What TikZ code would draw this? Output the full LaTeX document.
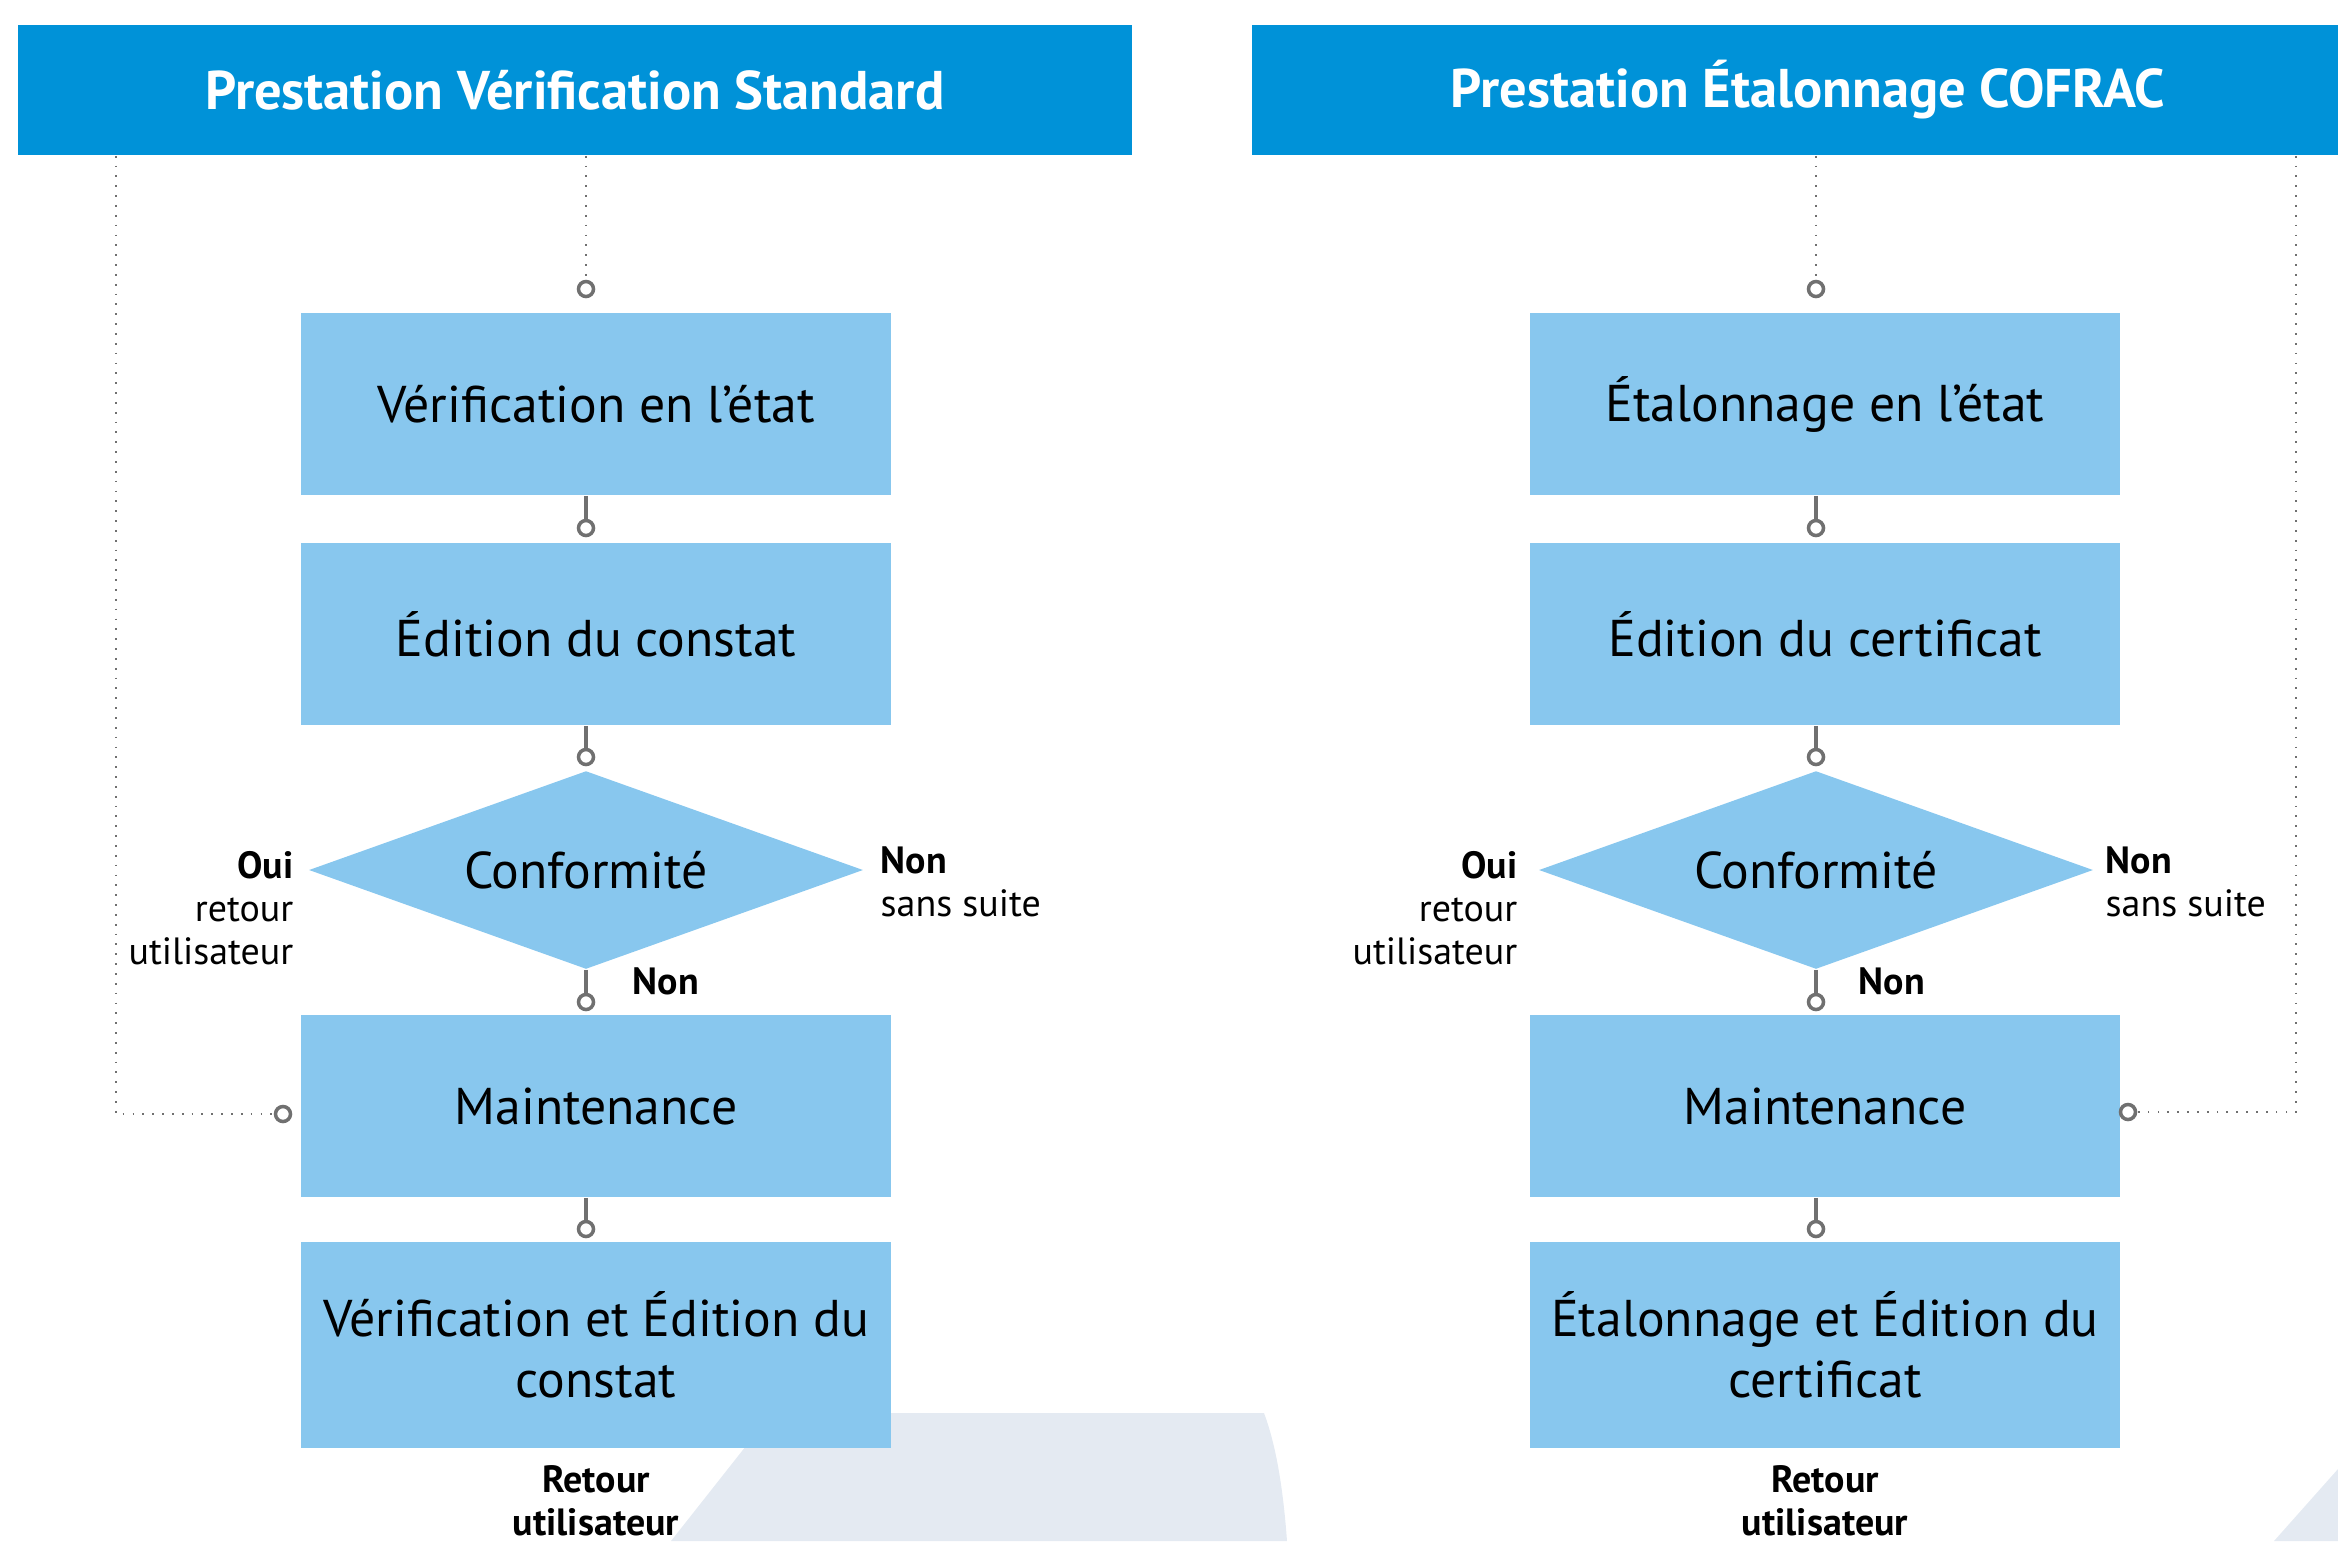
\documentclass[tikz,border=0pt]{standalone}
\usepackage{fontspec}
\setmainfont{PT Sans}
\usetikzlibrary{shapes.geometric}
\definecolor{headblue}{RGB}{0,146,216}
\definecolor{boxblue}{RGB}{136,199,238}
\definecolor{wire}{RGB}{112,112,112}
\definecolor{shadow}{RGB}{228,234,242}
\begin{document}
\begin{tikzpicture}[x=0.01cm,y=-0.01cm,
  banner/.style={fill=headblue,text=white,inner sep=0,minimum height=1.3cm,font=\bfseries\fontsize{15.5}{18}\selectfont},
  stepbox/.style={fill=boxblue,inner sep=0,minimum width=5.89cm,minimum height=1.82cm,align=center,font=\fontsize{14.7}{17.4}\selectfont},
  choice/.style={diamond,aspect=2.8,fill=boxblue,inner sep=0,minimum width=5.54cm,minimum height=1.98cm,font=\fontsize{14.7}{17.4}\selectfont},
  ring/.style={circle,draw=wire,line width=1pt,fill=white,inner sep=0,minimum size=0.15cm},
  link/.style={draw=wire,line width=1pt},
  trace/.style={draw=wire,line width=0.7pt,dash pattern=on 0.5pt off 2.3pt},
  note/.style={inner sep=0,font=\fontsize{10.8}{12.2}\selectfont},
  boldnote/.style={inner sep=0,font=\bfseries\fontsize{10.8}{12.2}\selectfont}]
\useasboundingbox (0,0) rectangle (2338,1541);
\clip (0,0) rectangle (2338,1541);
\fill[shadow] (772,1413) -- (1264,1413) .. controls (1278,1450) and (1284,1500) .. (1287,1541) -- (671,1541) -- cycle;
\fill[shadow] (2338,1469) -- (2338,1541) -- (2274,1541) -- cycle;

\node[banner,minimum width=11.14cm] (vhead) at (575,90) {Prestation Vérification Standard};
\node[stepbox] (veta) at (596,404) {Vérification en l’état};
\node[stepbox] (vedit) at (596,634) {Édition du constat};
\node[choice] (vconf) at (586,870) {Conformité};
\node[stepbox] (vmaint) at (596,1106) {Maintenance};
\node[stepbox,minimum height=2.06cm] (vfinal) at (596,1345) {Vérification et Édition du\\constat};
\node[ring] (vc1) at (586,289) {};
\node[ring] (vc2) at (586,528) {};
\node[ring] (vc3) at (586,757) {};
\node[ring] (vc4) at (586,1002) {};
\node[ring] (vc5) at (586,1229) {};
\node[ring] (vc6) at (283,1114) {};
\coordinate (vbend) at (116,1114);
\draw[trace] (vhead.south -| vc1) -- (vc1);
\draw[trace] (vhead.south -| vbend) -- (vbend) -- (vc6);
\draw[link] (veta.south -| vc2) -- (vc2);
\draw[link] (vedit.south -| vc3) -- (vc3);
\draw[link] (vconf.south) -- (vc4);
\draw[link] (vmaint.south -| vc5) -- (vc5);
\node[note,align=right,anchor=north east] (voui) at (294,851) {\textbf{Oui}\\retour\\utilisateur};
\node[note,align=left,anchor=north west] (vnon) at (880,846) {\textbf{Non}\\sans suite};
\node[boldnote,anchor=north west] (vnonb) at (632,967) {Non};
\node[boldnote,align=center,anchor=north] (vback) at (596,1465) {Retour\\utilisateur};

\node[banner,minimum width=11.12cm] (ehead) at (1808,90) {Prestation Étalonnage COFRAC};
\node[stepbox] (eeta) at (1825,404) {Étalonnage en l’état};
\node[stepbox] (eedit) at (1825,634) {Édition du certificat};
\node[choice] (econf) at (1816,870) {Conformité};
\node[stepbox] (emaint) at (1825,1106) {Maintenance};
\node[stepbox,minimum height=2.06cm] (efinal) at (1825,1345) {Étalonnage et Édition du\\certificat};
\node[ring] (ec1) at (1816,289) {};
\node[ring] (ec2) at (1816,528) {};
\node[ring] (ec3) at (1816,757) {};
\node[ring] (ec4) at (1816,1002) {};
\node[ring] (ec5) at (1816,1229) {};
\node[ring] (ec6) at (2128,1112) {};
\coordinate (ebend) at (2296,1112);
\draw[trace] (ehead.south -| ec1) -- (ec1);
\draw[trace] (ehead.south -| ebend) -- (ebend) -- (ec6);
\draw[link] (eeta.south -| ec2) -- (ec2);
\draw[link] (eedit.south -| ec3) -- (ec3);
\draw[link] (econf.south) -- (ec4);
\draw[link] (emaint.south -| ec5) -- (ec5);
\node[note,align=right,anchor=north east] (eoui) at (1518,851) {\textbf{Oui}\\retour\\utilisateur};
\node[note,align=left,anchor=north west] (enon) at (2105,846) {\textbf{Non}\\sans suite};
\node[boldnote,anchor=north west] (enonb) at (1858,967) {Non};
\node[boldnote,align=center,anchor=north] (eback) at (1825,1465) {Retour\\utilisateur};
\end{tikzpicture}
\end{document}
